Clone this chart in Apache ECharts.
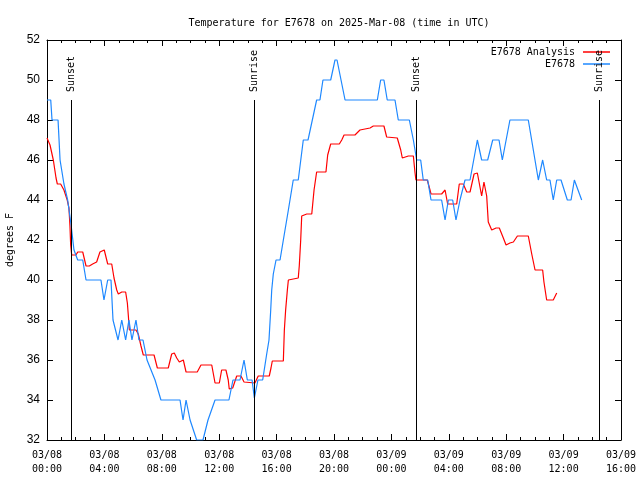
<!DOCTYPE html>
<html>
<head>
<meta charset="utf-8">
<script src="https://cdn.jsdelivr.net/npm/echarts@6/dist/echarts.min.js"></script>
<style>html,body{margin:0;padding:0;background:#fff}#c{width:640px;height:480px}</style>
</head>
<body>
<div id="c"></div>
<script>
// hours since 2025-03-08 00:00 UTC
const xTickLabels = ["03/08\n00:00","03/08\n04:00","03/08\n08:00","03/08\n12:00","03/08\n16:00","03/08\n20:00","03/09\n00:00","03/09\n04:00","03/09\n08:00","03/09\n12:00","03/09\n16:00"];

const analysisHours = [0,0.21,0.44,0.63,0.72,0.95,1.18,1.41,1.53,1.6,1.65,1.72,2.02,2.14,2.49,2.72,2.95,3.18,3.46,3.69,3.99,4.23,4.51,4.67,4.86,4.97,5.21,5.48,5.6,5.67,5.74,6.2,6.36,6.55,6.71,7.46,7.69,8.45,8.69,8.87,9.04,9.22,9.5,9.69,10.47,10.73,11.48,11.71,12.01,12.17,12.47,12.63,12.7,12.94,13.22,13.52,13.73,14.49,14.72,15.49,15.61,15.7,16.47,16.54,16.63,16.75,16.82,17.51,17.58,17.68,17.75,18.1,18.45,18.61,18.79,19.44,19.56,19.77,20.37,20.54,20.7,21.46,21.81,22.51,22.74,23.48,23.67,24.41,24.65,24.76,25.18,25.53,25.64,25.71,26.5,26.69,26.76,27.5,27.74,27.92,28.55,28.73,29.01,29.25,29.48,29.76,29.99,30.29,30.45,30.64,30.75,30.99,31.29,31.52,31.8,31.99,32.26,32.5,32.78,33.54,33.78,34.01,34.54,34.63,34.82,35.28,35.52];
const analysisTemps = [47.1,46.75,46,45.1,44.8,44.8,44.5,44,43.6,42.7,41.75,41.25,41.25,41.4,41.4,40.7,40.7,40.8,40.9,41.4,41.5,40.8,40.8,40.1,39.5,39.3,39.4,39.4,38.85,38.2,37.5,37.5,37.3,36.7,36.25,36.25,35.6,35.6,36.3,36.35,36.1,35.9,36.0,35.4,35.4,35.75,35.75,34.85,34.85,35.5,35.5,35,34.55,34.6,35.2,35.2,34.9,34.85,35.2,35.2,35.6,35.95,35.95,37.5,38.5,39.5,40.0,40.1,40.7,42,43.2,43.3,43.3,44.5,45.4,45.4,46.25,46.8,46.8,47.0,47.25,47.25,47.5,47.6,47.7,47.7,47.15,47.1,46.5,46.1,46.2,46.2,45.4,45.0,45.0,44.5,44.3,44.3,44.5,43.8,43.8,44.8,44.8,44.4,44.4,45.3,45.35,44.2,44.9,44.2,42.9,42.5,42.6,42.6,42.1,41.75,41.85,41.9,42.2,42.2,41.3,40.5,40.5,39.9,39.0,39.0,39.35];

const obsHours = [0,0.26,0.35,0.77,0.91,1.18,1.44,1.67,1.88,2.14,2.49,2.72,3.76,3.97,4.23,4.46,4.6,4.95,5.21,5.48,5.71,5.92,6.2,6.41,6.69,6.97,7.53,7.94,9.27,9.48,9.69,9.97,10.43,10.87,11.22,11.71,12.68,12.96,13.45,13.73,13.96,14.29,14.45,14.7,15.03,15.31,15.47,15.59,15.66,15.77,15.96,16.24,16.47,16.82,17.16,17.51,17.86,18.19,18.79,19.02,19.23,19.77,20.07,20.21,20.77,23.02,23.25,23.48,23.71,24.25,24.48,25.25,25.53,25.76,26.04,26.22,26.53,26.76,27.5,27.74,27.97,28.27,28.5,28.78,29.13,29.48,29.99,30.29,30.71,31.06,31.5,31.73,32.26,33.54,34.24,34.54,34.82,35.05,35.28,35.52,35.82,36.26,36.52,36.75,37.26];
const obsTemps = [49,49,48,48,46,44.8,44,42.8,41.5,41,41,40,40,39,40,40,38,37,38,37,38,37,38,37,37,36,35,34,34,33,34,33,32,32,33,34,34,35,35,36,35,35,34.1,35,35,36.3,37,38.5,39.5,40.3,41,41,42,43.5,45,45,47,47,49,49,50,50,51,51,49,49,50,50,49,49,48,48,47,46,46,45,45,44,44,43,44,44,43,44,45,45,47,46,46,47,47,46,48,48,45,46,45,45,44,45,45,44,44,45,44];

const eventHours = [1.67, 14.43, 25.71, 38.5];
const eventNames = ["Sunset", "Sunrise", "Sunset", "Sunrise"];
const eventLineTop = 49;

const MONO = "'DejaVu Sans Mono', monospace";
const pair = (xs, ys) => xs.map((x, i) => [x, ys[i]]);

const chart = echarts.init(document.getElementById('c'), null, {renderer: 'canvas'});
const yMin = 32, yMax = 52;

const legendBase = {right: 30, padding: 0, align: 'right', itemWidth: 27, itemHeight: 1.5, icon: 'rect', itemGap: 0,
  textStyle: {fontFamily: MONO, fontSize: 10, color: '#000', padding: [0, 3, 0, 0]}};

chart.setOption({
  animation: false,
  backgroundColor: '#fff',
  title: {
    text: 'Temperature for E7678 on 2025-Mar-08 (time in UTC)',
    left: 334, top: 13, textAlign: 'center',
    textStyle: {fontFamily: MONO, fontSize: 10, fontWeight: 'normal', color: '#000'}
  },
  legend: [
    Object.assign({}, legendBase, {data: ['E7678 Analysis'], top: 47}),
    Object.assign({}, legendBase, {data: ['E7678'], top: 59})
  ],
  grid: {left: 47, right: 19, top: 40, bottom: 40, containLabel: false, outerBoundsMode: 'none'},
  xAxis: [
    {type: 'value', min: 0, max: 40, interval: 4, position: 'bottom',
     axisLine: {show: true, onZero: false, lineStyle: {color: '#000', width: 1}},
     axisTick: {show: true, inside: true, length: 6, lineStyle: {color: '#000'}},
     minorTick: {show: true, splitNumber: 4, length: 3, lineStyle: {color: '#000'}},
     splitLine: {show: false},
     axisLabel: {fontFamily: MONO, fontSize: 10, color: '#000', margin: 8, lineHeight: 14,
       formatter: (v) => xTickLabels[Math.round(v / 4)]}},
    {type: 'value', min: 0, max: 40, interval: 4, position: 'top',
     axisLine: {show: true, onZero: false, lineStyle: {color: '#000', width: 1}},
     axisTick: {show: true, inside: true, length: 6, lineStyle: {color: '#000'}},
     minorTick: {show: true, splitNumber: 4, length: 3, lineStyle: {color: '#000'}},
     splitLine: {show: false}, axisLabel: {show: false}}
  ],
  yAxis: [
    {type: 'value', min: yMin, max: yMax, interval: 2, position: 'left',
     name: 'degrees F', nameLocation: 'middle', nameGap: 32,
     nameTextStyle: {fontFamily: MONO, fontSize: 10, color: '#000'},
     axisLine: {show: true, onZero: false, lineStyle: {color: '#000', width: 1}},
     axisTick: {show: true, inside: true, length: 6, lineStyle: {color: '#000'}},
     splitLine: {show: false},
     axisLabel: {fontFamily: "'Liberation Sans', Arial, sans-serif", fontSize: 12, color: '#000', margin: 7}},
    {type: 'value', min: yMin, max: yMax, interval: 2, position: 'right',
     axisLine: {show: true, onZero: false, lineStyle: {color: '#000', width: 1}},
     axisTick: {show: true, inside: true, length: 6, lineStyle: {color: '#000'}},
     splitLine: {show: false}, axisLabel: {show: false}}
  ],
  series: [
    {name: 'E7678 Analysis', type: 'line', symbol: 'none', data: pair(analysisHours, analysisTemps),
     lineStyle: {color: '#ff0000', width: 1.2}, itemStyle: {color: '#ff0000'}, z: 3},
    {name: 'E7678', type: 'line', symbol: 'none', data: pair(obsHours, obsTemps),
     lineStyle: {color: '#1e88ff', width: 1.2}, itemStyle: {color: '#1e88ff'}, z: 4},
    {name: 'events', type: 'scatter', symbolSize: 0, itemStyle: {color: 'rgba(0,0,0,0)'}, silent: true, z: 5,
     data: eventHours.map((h, i) => ({value: [h, eventLineTop], name: eventNames[i]})),
     label: {show: true, position: 'top', distance: 8, rotate: 90, align: 'left', verticalAlign: 'middle',
       formatter: (p) => p.name, fontFamily: MONO, fontSize: 10, color: '#000', opacity: 1},
     markLine: {silent: true, symbol: 'none', label: {show: false},
       lineStyle: {color: '#000', width: 1, type: 'solid'},
       data: eventHours.map((h) => [{coord: [h, yMin]}, {coord: [h, eventLineTop]}])}}
  ]
});
</script>
</body>
</html>
